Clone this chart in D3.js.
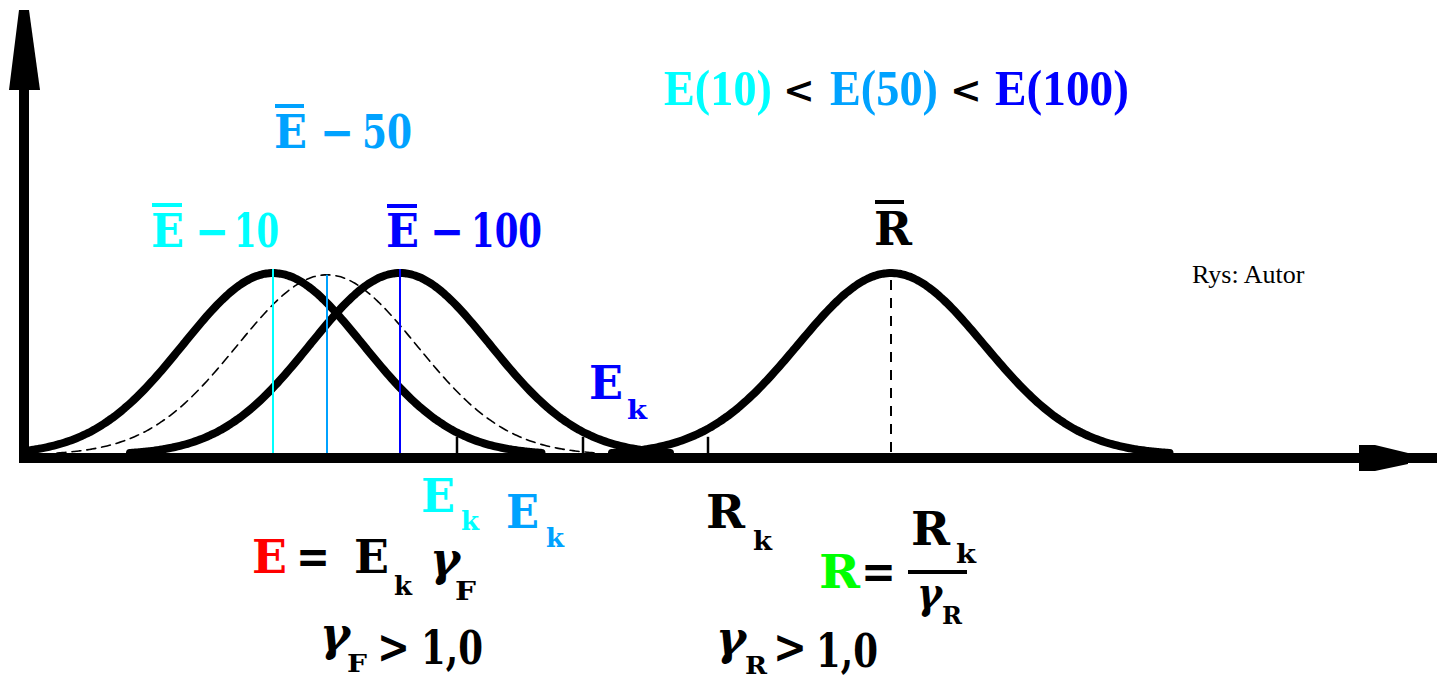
<!DOCTYPE html>
<html>
<head>
<meta charset="utf-8">
<script src="https://cdn.jsdelivr.net/npm/d3@7"></script>
<style>
  html, body { margin: 0; padding: 0; background: #fff; overflow: hidden; }
</style>
</head>
<body>
<svg id="chart" width="1437" height="679"></svg>
<script>
// Normal distributions of load effect (E for 10/50/100-year periods) and resistance R
const curveNames  = ["E-10", "E-50", "E-100", "R"];
const curveMeans  = [25.1, 30.5, 37.8, 86.9];
const curveSigmas = [9.0, 9.0, 9.0, 9.3];
const curvePeaks  = [1.0, 0.99, 1.0, 1.0];

// Characteristic values marked on the axis (E_k of E-10, E_k of E-100, R_k)
const charValues = [43.5, 56.1, 68.6];
const charTickHeight = 0.1;

// Period labels
const periods = ["10", "50", "100"];

const W = 1437, H = 679;
const SERIF = "'DejaVu Serif', 'Liberation Serif', 'Times New Roman', serif";
const TIMES = "'Liberation Serif', 'Times New Roman', Times, serif";
const svg = d3.select("#chart");

const x = d3.scaleLinear().domain([0, 141.5]).range([22, W]);
const y = d3.scaleLinear().domain([0, 1]).range([455, 273]);

const style = {
  "E-10":  { width: 8,   dash: null,  mean: "#00ffff" },
  "E-50":  { width: 1.6, dash: "9,6", mean: "#00a2ff" },
  "E-100": { width: 8,   dash: null,  mean: "#0000ff" },
  "R":     { width: 8,   dash: null,  mean: "#000000", meanDash: "10,8" }
};
const periodColors = ["#00ffff", "#00a2ff", "#0000ff"];

const curves = curveNames.map((name, i) => ({
  name, mu: curveMeans[i], sigma: curveSigmas[i], peak: curvePeaks[i]
}));

const line = d3.line().x(d => x(d[0])).y(d => y(d[1])).curve(d3.curveBasis);

// Curves
curves.forEach(c => {
  const lo = Math.max(0.2, c.mu - 3 * c.sigma), hi = c.mu + 3 * c.sigma;
  const pts = d3.range(lo, hi + 0.01, 0.25).map(v =>
    [v, c.peak * Math.exp(-((v - c.mu) ** 2) / (2 * c.sigma * c.sigma))]);
  const s = style[c.name];
  svg.append("path")
    .attr("d", line(pts))
    .attr("fill", "none")
    .attr("stroke", "#000")
    .attr("stroke-width", s.width)
    .attr("stroke-linecap", "round")
    .attr("stroke-dasharray", s.dash);
});

// Mean lines
curves.forEach(c => {
  const s = style[c.name];
  const top = c.name === "R" ? y(c.peak) + 7 : (c.name === "E-50" ? y(c.peak) : y(c.peak) - 4);
  svg.append("line")
    .attr("x1", x(c.mu)).attr("x2", x(c.mu))
    .attr("y1", top).attr("y2", y(0))
    .attr("stroke", s.mean)
    .attr("stroke-width", 2)
    .attr("stroke-dasharray", s.meanDash || null);
});

// Characteristic value ticks
charValues.forEach(v => {
  svg.append("line")
    .attr("x1", x(v)).attr("x2", x(v))
    .attr("y1", y(charTickHeight)).attr("y2", y(0))
    .attr("stroke", "#000").attr("stroke-width", 2.5);
});

// Axes with arrowheads
const axisY = y(0) + 3, axisX = 24;
svg.append("line").attr("x1", axisX).attr("x2", axisX).attr("y1", 12).attr("y2", axisY + 5)
  .attr("stroke", "#000").attr("stroke-width", 10);
svg.append("polygon").attr("points", "19,10 29,10 40,90 9,90").attr("fill", "#000");
svg.append("line").attr("x1", axisX - 5).attr("x2", W).attr("y1", axisY).attr("y2", axisY)
  .attr("stroke", "#000").attr("stroke-width", 10);
svg.append("polygon")
  .attr("points", `1359,${axisY-13} 1375,${axisY-13} 1408,${axisY-5} 1408,${axisY+6} 1375,${axisY+13} 1359,${axisY+13}`)
  .attr("fill", "#000");

// Text helpers
function T(px, py, s, o = {}) {
  const t = svg.append("text")
    .attr("x", px).attr("y", py).text(s)
    .attr("font-family", o.family || SERIF)
    .attr("font-weight", o.weight || "bold")
    .attr("font-size", o.size || 46)
    .attr("fill", o.fill || "#000");
  if (o.italic) t.attr("font-style", "italic");
  if (o.w) t.attr("textLength", o.w).attr("lengthAdjust", "spacingAndGlyphs");
  return t;
}
function bar(px, py, w, fill = "#000", h = 4) {
  svg.append("rect").attr("x", px).attr("y", py).attr("width", w).attr("height", h).attr("fill", fill);
}

// E(10) < E(50) < E(100)
T(664, 105, `E(${periods[0]})`, { fill: periodColors[0], family: TIMES, size: 50, w: 108 });
T(783, 103, "<", { size: 38 });
T(830, 105, `E(${periods[1]})`, { fill: periodColors[1], family: TIMES, size: 50, w: 108 });
T(950, 103, "<", { size: 38 });
T(995, 105, `E(${periods[2]})`, { fill: periodColors[2], family: TIMES, size: 50, w: 134 });

// Mean labels
T(274, 148, "E", { fill: periodColors[1], w: 33 }); bar(275, 104, 29, periodColors[1]);
T(320, 148, "\u2212", { fill: periodColors[1], w: 34 });
T(362, 148, periods[1], { fill: periodColors[1], w: 50 });

T(151, 247, "E", { fill: periodColors[0], w: 33 }); bar(152, 203, 30, periodColors[0]);
T(195, 247, "\u2212", { fill: periodColors[0], w: 34 });
T(234, 247, periods[0], { fill: periodColors[0], w: 45 });

T(386, 247, "E", { fill: periodColors[2], w: 33 }); bar(387, 204, 30, periodColors[2]);
T(430, 247, "\u2212", { fill: periodColors[2], w: 34 });
T(471, 247, periods[2], { fill: periodColors[2], w: 71 });

T(874, 245, "R", { w: 38 }); bar(875, 200, 29);

// Characteristic value labels
T(589, 399, "E", { fill: periodColors[2], w: 34 });
T(627, 419, "k", { fill: periodColors[2], size: 26, w: 20 });
T(421, 512, "E", { fill: periodColors[0], w: 34 });
T(461, 530, "k", { fill: periodColors[0], size: 26, w: 18 });
T(506, 528, "E", { fill: periodColors[1], w: 33 });
T(546, 547, "k", { fill: periodColors[1], size: 26, w: 18 });
T(706, 528, "R", { w: 39 });
T(753, 550, "k", { size: 26, w: 19 });

// E = E_k γ_F
T(252, 573, "E", { fill: "#ff0000", w: 35 });
T(296, 573, "=", { w: 34 });
T(354, 573, "E", { w: 35 });
T(394, 595, "k", { size: 26, w: 18 });
T(430, 575, "\u03b3", { italic: true, w: 30 });
T(455, 600, "F", { size: 26, w: 21 });

// γ_F > 1,0
T(320, 650, "\u03b3", { italic: true, w: 30 });
T(347, 672, "F", { size: 24, w: 20 });
T(377, 663, ">", { w: 33 });
T(421, 664, "1,0", { w: 62 });

// R = R_k / γ_R
T(819, 588, "R", { fill: "#00ff00", w: 41 });
T(861, 588, "=", { w: 35 });
T(911, 545, "R", { w: 39 });
T(956, 563, "k", { size: 26, w: 20 });
bar(908, 570, 59);
T(917, 608, "\u03b3", { italic: true, size: 42, w: 25 });
T(942, 624, "R", { size: 24, w: 20 });

// γ_R > 1,0
T(716, 654, "\u03b3", { italic: true, w: 30 });
T(745, 674, "R", { size: 24, w: 22 });
T(773, 663, ">", { w: 34 });
T(816, 667, "1,0", { w: 62 });

// Credit
T(1192, 283, "Rys: Autor", { family: TIMES, weight: "normal", size: 26 });
</script>
</body>
</html>
